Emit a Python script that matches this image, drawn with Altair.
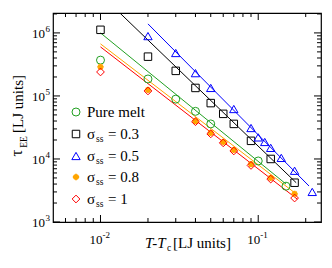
import altair as alt
import pandas as pd

# ---------------- data ----------------
x_pure = [0.01, 0.02, 0.03, 0.04, 0.05, 0.10, 0.15]
y_pure = [3.7e5, 1.86e5, 8.9e4, 5.7e4, 3.6e4, 9.3e3, 3.7e3]

x_s03 = [0.01, 0.02, 0.03, 0.04, 0.05, 0.06, 0.07, 0.09, 0.12, 0.17]
y_s03 = [1.12e6, 4.2e5, 2.5e5, 1.34e5, 7.7e4, 5.2e4, 3.6e4, 1.94e4, 1.0e4, 4.2e3]

x_s05 = [0.02, 0.03, 0.04, 0.05, 0.07, 0.09, 0.10, 0.11, 0.12, 0.14, 0.17, 0.22]
y_s05 = [8.9e5, 4.8e5, 2.3e5, 1.34e5, 6.2e4, 3.1e4, 2.2e4, 1.86e4, 1.5e4, 1.04e4, 6.5e3, 3.0e3]

x_s08 = [0.01, 0.02, 0.04, 0.05, 0.06, 0.07, 0.09, 0.12, 0.17]
y_s08 = [2.9e5, 1.25e5, 4.0e4, 2.6e4, 1.86e4, 1.39e4, 8.3e3, 5.0e3, 2.8e3]

x_s1 = [0.01, 0.02, 0.04, 0.05, 0.06, 0.07, 0.09, 0.12, 0.17]
y_s1 = [2.4e5, 1.2e5, 3.9e4, 2.5e4, 1.8e4, 1.34e4, 7.9e3, 4.8e3, 2.4e3]

# power-law fit lines (end points)
fit_pure_x = [0.01, 0.150]
fit_pure_y = [1.0e6, 4.0e3]
fit_s03_x = [0.01327, 0.174]
fit_s03_y = [2.07e6, 4.2e3]
fit_s05_x = [0.02, 0.21]
fit_s05_y = [1.39e6, 3.72e3]
fit_s08_x = [0.01, 0.177]
fit_s08_y = [6.7e5, 2.7e3]
fit_s1_x = [0.01, 0.177]
fit_s1_y = [6.0e5, 2.3e3]

# axis ticks / labels
x_major = [0.01, 0.1]
x_major_exp = ["-2", "-1"]
x_minor = [0.006, 0.007, 0.008, 0.009, 0.02, 0.03, 0.04, 0.05, 0.06, 0.07, 0.08, 0.09, 0.2]
y_major = [1e3, 1e4, 1e5, 1e6]
y_major_exp = ["3", "4", "5", "6"]
y_minor = [k * 10 ** d for d in (3, 4, 5) for k in range(2, 10)] + [2e6]

legend_labels = ["Pure melt", "= 0.3", "= 0.5", "= 0.8", "= 1"]

# ---------------- styling ----------------
W, H = 268, 209
FONT = "Liberation Serif"
GREEN, BLACK, BLUE, ORANGE, RED = "#22a022", "#000000", "#0000ff", "#ffa500", "#ff0000"
STAR = "M-1,0L1,0M0,-1L0,1M-0.7,-0.7L0.7,0.7M-0.7,0.7L0.7,-0.7"

xs = alt.Scale(type="log", domain=[0.005, 0.25], nice=False)
ys = alt.Scale(type="log", domain=[1e3, 2.07e6], nice=False)


def X(f="x"):
    return alt.X(f"{f}:Q", scale=xs, axis=None)


def Y(f="y"):
    return alt.Y(f"{f}:Q", scale=ys, axis=None)


def pts(xv, yv, color, shape, size, sw=1.0):
    df = pd.DataFrame({"x": xv, "y": yv})
    return alt.Chart(df).mark_point(shape=shape, size=size, color=color,
                                    filled=False, strokeWidth=sw, opacity=1).encode(x=X(), y=Y())


def fit(xv, yv, color):
    df = pd.DataFrame({"x": xv, "y": yv})
    return alt.Chart(df).mark_line(color=color, strokeWidth=1, clip=True).encode(x=X(), y=Y())


one = pd.DataFrame({"a": [0]})


def txt(t, x, y, size=13, align="left", baseline="middle", angle=0, style="normal"):
    return alt.Chart(one).mark_text(text=t, font=FONT, fontSize=size, align=align,
                                    baseline=baseline, angle=angle, fontStyle=style,
                                    color="black").encode(x=alt.value(x), y=alt.value(y))


def legend_marker(x, y, color, shape, size, sw=1.0):
    return alt.Chart(one).mark_point(shape=shape, size=size, color=color, filled=False,
                                     strokeWidth=sw, opacity=1).encode(x=alt.value(x), y=alt.value(y))


layers = []

# fit lines
layers += [fit(fit_pure_x, fit_pure_y, GREEN), fit(fit_s03_x, fit_s03_y, BLACK),
           fit(fit_s05_x, fit_s05_y, BLUE), fit(fit_s08_x, fit_s08_y, ORANGE),
           fit(fit_s1_x, fit_s1_y, RED)]

# data points
layers += [pts(x_pure, y_pure, GREEN, "circle", 64),
           pts(x_s03, y_s03, BLACK, "square", 56),
           pts(x_s05, y_s05, BLUE, "triangle-up", 70),
           pts(x_s08, y_s08, ORANGE, STAR, 40, 1.8),
           pts(x_s1, y_s1, RED, "diamond", 60)]

# ticks (inward, all four sides)
dxM = pd.DataFrame({"x": x_major})
dxm = pd.DataFrame({"x": x_minor})
dyM = pd.DataFrame({"y": y_major})
dym = pd.DataFrame({"y": y_minor})
for d, ln in ((dxM, 7), (dxm, 4)):
    layers.append(alt.Chart(d).mark_rule(color="black", strokeWidth=1).encode(
        x=X(), y=alt.value(H), y2=alt.value(H - ln)))
    layers.append(alt.Chart(d).mark_rule(color="black", strokeWidth=1).encode(
        x=X(), y=alt.value(0), y2=alt.value(ln)))
for d, ln in ((dyM, 7), (dym, 4)):
    layers.append(alt.Chart(d).mark_rule(color="black", strokeWidth=1).encode(
        y=Y(), x=alt.value(0), x2=alt.value(ln)))
    layers.append(alt.Chart(d).mark_rule(color="black", strokeWidth=1).encode(
        y=Y(), x=alt.value(W), x2=alt.value(W - ln)))

# tick labels
dxl = pd.DataFrame({"x": x_major, "e": x_major_exp, "b": ["10", "10"]})
layers.append(alt.Chart(dxl).mark_text(font=FONT, fontSize=13, align="right", baseline="alphabetic",
                                       dx=2).encode(x=X(), y=alt.value(H + 22), text="b:N"))
layers.append(alt.Chart(dxl).mark_text(font=FONT, fontSize=9, align="left", baseline="alphabetic",
                                       dx=2).encode(x=X(), y=alt.value(H + 16), text="e:N"))
dyl = pd.DataFrame({"y": y_major, "e": y_major_exp, "b": ["10"] * 4})
layers.append(alt.Chart(dyl).mark_text(font=FONT, fontSize=13, align="right", baseline="middle",
                                       dy=1).encode(y=Y(), x=alt.value(-8), text="b:N"))
layers.append(alt.Chart(dyl).mark_text(font=FONT, fontSize=9, align="left", baseline="middle",
                                       dy=-4).encode(y=Y(), x=alt.value(-7.5), text="e:N"))

# axis titles
layers += [txt("T-T", 92, H + 26, 15, baseline="alphabetic", style="italic"),
           txt("c", 114, H + 29, 9.5, baseline="alphabetic"),
           txt("[LJ units]", 120, H + 26, 15, baseline="alphabetic")]
layers += [txt("τ", -36, 140, 17, align="center", angle=270),
           txt("EE", -29, 129, 9.5, align="center", angle=270),
           txt("[LJ units]", -35, 91, 15, align="center", angle=270)]

# legend
leg_y = [99, 121, 143, 164, 186]
mx = 23
layers += [legend_marker(mx, leg_y[0], GREEN, "circle", 64),
           legend_marker(mx, leg_y[1], BLACK, "square", 56),
           legend_marker(mx, leg_y[2], BLUE, "triangle-up", 70),
           legend_marker(mx, leg_y[3], ORANGE, STAR, 40, 1.8),
           legend_marker(mx, leg_y[4], RED, "diamond", 60)]
layers.append(txt(legend_labels[0], 34, leg_y[0], 15))
for i in range(1, 5):
    layers += [txt("σ", 34, leg_y[i], 15),
               txt("ss", 43, leg_y[i] + 5, 9.5),
               txt(legend_labels[i], 55, leg_y[i], 15)]

chart = alt.layer(*layers).properties(
    width=W, height=H,
    padding={"left": 45, "top": 5, "right": 3, "bottom": 38},
    autosize=alt.AutoSizeParams(type="none"),
).configure_view(stroke="black", strokeWidth=1.2)

chart.save("out.html", embed_options={"renderer": "svg", "actions": False})
